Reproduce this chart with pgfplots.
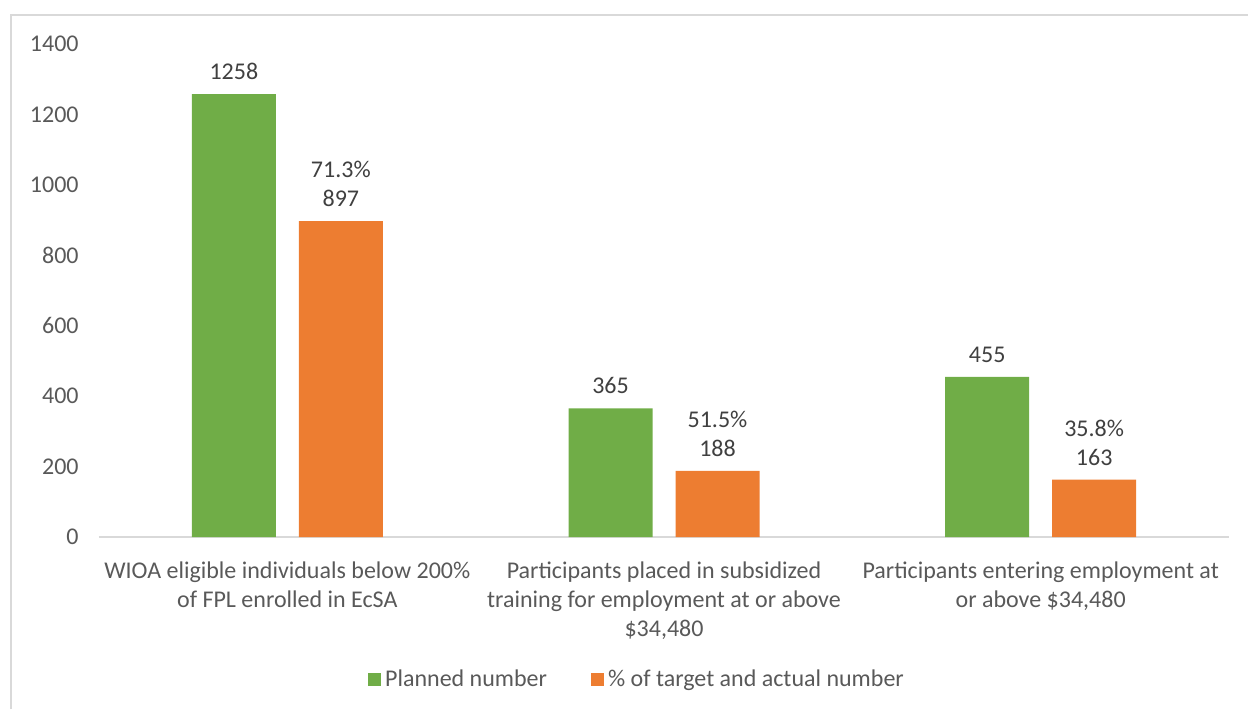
\documentclass[border=0pt]{standalone}
\usepackage{fontspec}
\setmainfont{Carlito}
\usepackage{pgfplots}
\pgfplotsset{compat=1.18}
\definecolor{planned}{HTML}{70AD47}
\definecolor{actual}{HTML}{ED7D31}
\definecolor{txt}{HTML}{595959}
\definecolor{lbl}{HTML}{404040}
\definecolor{frame}{HTML}{D9D9D9}

\begin{document}
\fontsize{12pt}{14.5pt}\selectfont
\begin{tikzpicture}
\useasboundingbox (0,0) rectangle (624pt,354.5pt);
\draw[frame, line width=0.9pt] (5.5pt,0) -- (5.5pt,347pt) -- (624pt,347pt);
\begin{axis}[
    at={(49.5pt,86pt)}, anchor=south west,
    scale only axis,
    width=565pt, height=246.5pt,
    ybar=11.5pt, bar width=42pt,
    xmin=-0.5, xmax=2.5,
    ymin=0, ymax=1400,
    xtick={0,1,2},
    xticklabels={
        {WIOA eligible individuals below 200\%\\of FPL enrolled in EcSA},
        {Participants placed in subsidized\\training for employment at or above\\\$34,480},
        {Participants entering employment at\\or above \$34,480}},
    ytick={0,200,...,1400},
    /pgf/number format/assume math mode=true,
    /pgf/number format/1000 sep={},
    axis lines*=left,
    x axis line style={draw=frame, line width=1pt},
    y axis line style={draw=none},
    tick style={draw=none},
    xticklabel style={align=center, text=txt, yshift=-4pt},
    yticklabel style={text=txt, xshift=-6pt},
    point meta=explicit symbolic,
    nodes near coords,
    every node near coord/.append style={text=lbl, align=center, anchor=south, inner sep=0pt, yshift=7pt},
    legend style={at={(0.477,-0.29)}, anchor=center, draw=none, fill=none,
        legend columns=2, text=txt,
        /tikz/every even column/.append style={column sep=20pt}},
    legend cell align=left,
]
\addplot[fill=planned, draw=none,
    legend image code/.code={\fill[planned] (0pt,-3.25pt) rectangle (6.5pt,3.25pt);}]
    coordinates {(0,1258) [1258] (1,365) [365] (2,455) [455]};
\addplot[fill=actual, draw=none,
    legend image code/.code={\fill[actual] (0pt,-3.25pt) rectangle (6.5pt,3.25pt);}]
    coordinates {(0,897) [71.3\%\\897] (1,188) [51.5\%\\188] (2,163) [35.8\%\\163]};
\legend{Planned number, \% of target and actual number}
\end{axis}
\end{tikzpicture}
\end{document}
